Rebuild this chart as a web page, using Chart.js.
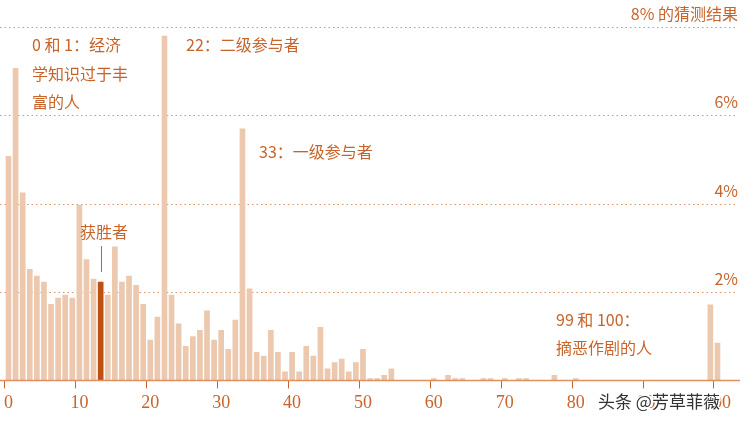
<!DOCTYPE html><html><head><meta charset="utf-8">
<script src="https://cdn.jsdelivr.net/npm/chart.js@4"></script>
<style>html,body{margin:0;padding:0;background:#fff}#w{width:747px;height:421px}</style></head><body><div id="w"><canvas id="c"></canvas></div>
<script>
const guesses = Array.from({length:101},(_, i)=>String(i));
const shares = [5.08,7.07,4.25,2.52,2.37,2.23,1.73,1.87,1.94,1.87,
3.97,2.74,2.30,2.23,1.94,3.03,2.23,2.37,2.16,1.73,
0.92,1.44,7.8,1.94,1.29,0.78,1.0,1.14,1.58,0.92,
1.14,0.71,1.37,5.7,2.08,0.64,0.56,1.14,0.64,0.2,
0.64,0.2,0.78,0.56,1.21,0.27,0.41,0.49,0.2,0.41,
0.71,0.05,0.05,0.12,0.27,0,0,0,0,0,
0.05,0,0.12,0.05,0.05,0,0,0.05,0.05,0,
0.05,0,0.05,0.05,0,0,0,0.12,0,0,
0.05,0,0,0,0,0,0,0,0,0,
0,0,0,0,0,0,0,0,0,1.72,0.85];
const winnerIndex = 13;
const gridValues = [2,4,6,8];
const gridLabels = ['2%','4%','6%','8% 的猜测结果'];
const ORANGE='#c8632a';
const FONT='"Noto Sans CJK SC", serif';
const notes=[
 {t:'0 和 1：经济',x:32,y:45},{t:'学知识过于丰',x:32,y:74},{t:'富的人',x:32,y:102},
 {t:'22：二级参与者',x:186,y:45},{t:'33：一级参与者',x:259,y:152},
 {t:'获胜者',x:80,y:232},{t:'99 和 100：',x:556,y:320},{t:'摘恶作剧的人',x:556,y:348}];
const deco={id:'deco',
 beforeDatasetsDraw(ch){const c=ch.ctx,y=ch.scales.y;c.save();c.strokeStyle='#d8936a';c.lineWidth=1.2;c.setLineDash([1.5,3]);
  c.font='16px '+FONT;c.fillStyle=ORANGE;c.textAlign='right';c.textBaseline='alphabetic';
  gridValues.forEach((v,i)=>{const py=Math.round(y.getPixelForValue(v))+.5;c.beginPath();c.moveTo(0,py);c.lineTo(736,py);c.stroke();c.fillText(gridLabels[i],738,py-8);});
  c.restore();},
 afterDraw(ch){const c=ch.ctx,x=ch.scales.x,y=ch.scales.y;c.save();
  const by=y.getPixelForValue(0);c.strokeStyle='#e0905f';c.lineWidth=1.5;c.beginPath();c.moveTo(0,by);c.lineTo(740,by);c.stroke();
  c.font='16px '+FONT;c.fillStyle=ORANGE;c.textBaseline='middle';c.textAlign='left';
  notes.forEach(n=>c.fillText(n.t,n.x,n.y));
  const wx=Math.round(x.getPixelForValue(winnerIndex))+0.5;c.strokeStyle='#c8632a';c.lineWidth=1;c.beginPath();c.moveTo(wx,246);c.lineTo(wx,272);c.stroke();
  c.font='17px "Noto Sans CJK SC"';c.lineWidth=3;c.strokeStyle='#fff';c.fillStyle='#333';c.strokeText('头条 @芳草菲薇',598,402);c.fillText('头条 @芳草菲薇',598,402);
  c.restore();}};
new Chart(document.getElementById('c'),{type:'bar',
 data:{labels:guesses,datasets:[{data:shares,backgroundColor:shares.map((_,i)=>i===winnerIndex?'#c0500f':'#ebc8ae'),barPercentage:0.8,categoryPercentage:1}]},
 options:{responsive:true,maintainAspectRatio:false,animation:false,
  layout:{padding:{left:0,right:26,top:18,bottom:3}},
  plugins:{legend:{display:false},tooltip:{enabled:false}},
  scales:{
   x:{grid:{display:true,drawOnChartArea:false,drawTicks:true,tickLength:8,color:c=>(c.index%10===0)?'#c8632a':'transparent'},border:{display:false},
      ticks:{autoSkip:false,maxRotation:0,padding:4,color:ORANGE,font:{size:18,family:'"Liberation Serif", serif'},callback:(v,i)=>i%10===0?String(i):''}},
   y:{display:false,min:0,max:8.2}}},
 plugins:[deco]});
</script></body></html>
